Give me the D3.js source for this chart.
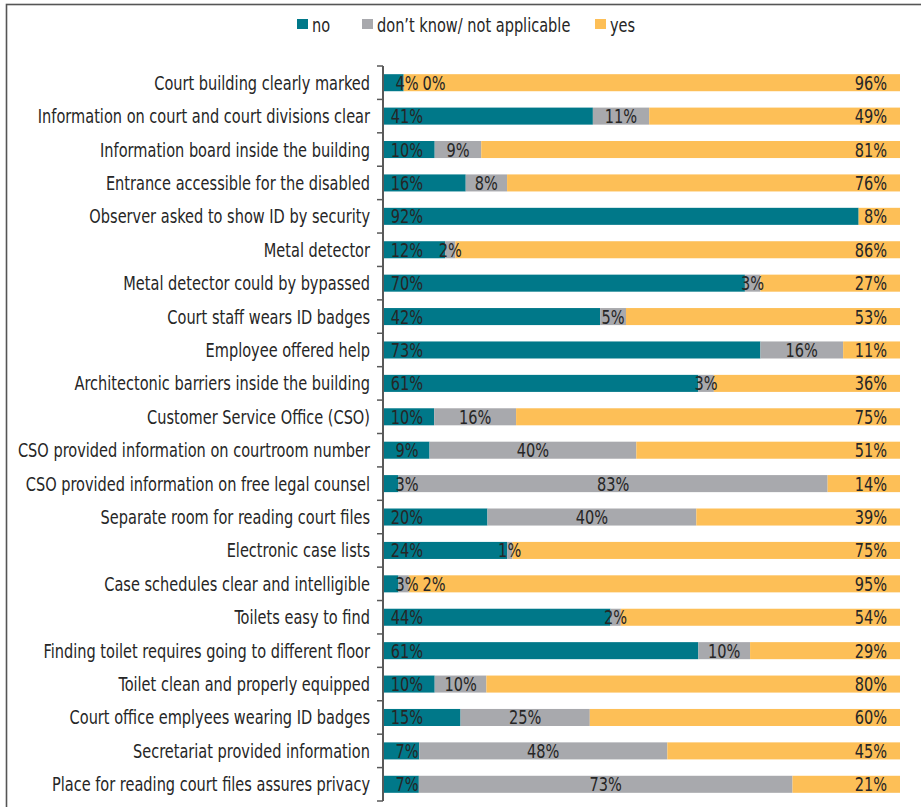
<!DOCTYPE html>
<html>
<head>
<meta charset="utf-8">
<script src="https://cdn.jsdelivr.net/npm/d3@7"></script>
<style>
  body { margin: 0; background: #fff; }
  svg { font-family: 'Liberation Sans Narrow', 'DejaVu Sans Condensed', sans-serif; }
  .cat-label, .val-label, .legend-label { fill: #262626; font-size: 19.5px; }
  .axis-y path, .axis-y line { stroke: #595959; }
</style>
</head>
<body>
<div id="chart"></div>
<script>
const categories = [
  "Court building clearly marked",
  "Information on court and court divisions clear",
  "Information board inside the building",
  "Entrance accessible for the disabled",
  "Observer asked to show ID by security",
  "Metal detector",
  "Metal detector could by bypassed",
  "Court staff wears ID badges",
  "Employee offered help",
  "Architectonic barriers inside the building",
  "Customer Service Office (CSO)",
  "CSO provided information on courtroom number",
  "CSO provided information on free legal counsel",
  "Separate room for reading court files",
  "Electronic case lists",
  "Case schedules clear and intelligible",
  "Toilets easy to find",
  "Finding toilet requires going to different floor",
  "Toilet clean and properly equipped",
  "Court office emplyees wearing ID badges",
  "Secretariat provided information",
  "Place for reading court files assures privacy"
];
const noValues       = [4, 41, 10, 16, 92, 12, 70, 42, 73, 61, 10, 9, 3, 20, 24, 3, 44, 61, 10, 15, 7, 7];
const dontKnowValues = [0, 11, 9, 8, null, 2, 3, 5, 16, 3, 16, 40, 83, 40, 1, 2, 2, 10, 10, 25, 48, 73];
const yesValues      = [96, 49, 81, 76, 8, 86, 27, 53, 11, 36, 75, 51, 14, 39, 75, 95, 54, 29, 80, 60, 45, 21];

const seriesNames = ["no", "don\u2019t know/ not applicable", "yes"];
const seriesColors = ["#007889", "#a8a9ad", "#fdbf57"];

const width = 921, height = 807;
const margin = {top: 66, right: 21, bottom: 6, left: 383};
const squeeze = 0.83; // condensed look for the text

const svg = d3.select("#chart").append("svg")
  .attr("width", width)
  .attr("height", height)
  .attr("viewBox", `0 0 ${width} ${height}`);

// places a text with horizontal squeeze
function place(sel, x, y) {
  return sel.attr("transform", `translate(${x},${y}) scale(${squeeze},1)`);
}

// frame
svg.append("rect")
  .attr("x", 6.5).attr("y", 4.5)
  .attr("width", width + 10).attr("height", height + 10)
  .attr("fill", "none")
  .attr("stroke", "#555")
  .attr("stroke-width", 1.6);

const g = svg.append("g")
  .attr("transform", `translate(${margin.left},${margin.top})`);

const graphWidth = width - margin.left - margin.right;
const graphHeight = height - margin.top - margin.bottom;

//
// Data
//
const rows = categories.map((c, i) => {
  const vals = [noValues[i], dontKnowValues[i], yesValues[i]];
  const total = d3.sum(vals, v => v || 0);
  let acc = 0;
  const segs = vals.map((v, k) => {
    const s = {cat: c, k, value: v, x0: acc / total, x1: (acc + (v || 0)) / total};
    acc += v || 0;
    return s;
  });
  return {cat: c, segs};
});

//
// Scales
//
const xScale = d3.scaleLinear().domain([0, 1]).range([0, graphWidth]);
const yScale = d3.scaleBand()
  .domain(categories)
  .range([0, graphHeight])
  .paddingInner(0.49)
  .paddingOuter(0.245);

//
// Bars
//
const rowG = g.selectAll(".row").data(rows).enter().append("g")
  .attr("class", "row")
  .attr("transform", d => `translate(0,${yScale(d.cat)})`);

rowG.selectAll("rect").data(d => d.segs.filter(s => s.value !== null && s.value > 0)).enter()
  .append("rect")
  .attr("x", s => xScale(s.x0))
  .attr("width", s => xScale(s.x1) - xScale(s.x0))
  .attr("height", yScale.bandwidth())
  .attr("fill", s => seriesColors[s.k]);

//
// Value labels
//
const labelY = yScale.bandwidth() / 2 + 7;
rowG.each(function(d) {
  const sel = d3.select(this);
  let prevEnd = -Infinity;
  d.segs.forEach(s => {
    if (s.value === null) return;
    const txt = sel.append("text")
      .attr("class", "val-label")
      .text(s.value + "%");
    const w = txt.node().getComputedTextLength() * squeeze;
    if (s.k === 2) {
      place(txt.attr("text-anchor", "end"), graphWidth - 13, labelY);
      return;
    }
    let cx = s.k === 0 ? xScale(s.x0) + 24 : (xScale(s.x0) + xScale(s.x1)) / 2;
    if (cx - w / 2 < prevEnd + 4) cx = prevEnd + 4 + w / 2;
    place(txt.attr("text-anchor", "middle"), cx, labelY);
    prevEnd = cx + w / 2;
  });
});

//
// Axis
//
const axisG = g.append("g").attr("class", "axis-y");
axisG.append("line")
  .attr("x1", 0).attr("x2", 0)
  .attr("y1", 0).attr("y2", graphHeight)
  .attr("stroke-width", 2);
axisG.selectAll(".tick-mark")
  .data(d3.range(categories.length + 1))
  .enter().append("line")
  .attr("class", "tick-mark")
  .attr("x1", -6).attr("x2", 0)
  .attr("y1", i => i * yScale.step())
  .attr("y2", i => i * yScale.step())
  .attr("stroke-width", 1.5);

g.selectAll(".cat-label").data(categories).enter().append("text")
  .attr("class", "cat-label")
  .attr("text-anchor", "end")
  .attr("transform", c => `translate(-13,${yScale(c) + labelY}) scale(${squeeze},1)`)
  .text(c => c);

//
// Legend
//
const legendItems = [{x: 297}, {x: 362}, {x: 595}];
const legend = svg.append("g").attr("class", "legend");
legendItems.forEach((it, i) => {
  legend.append("rect")
    .attr("x", it.x).attr("y", 19)
    .attr("width", 11).attr("height", 10)
    .attr("fill", seriesColors[i]);
  place(legend.append("text").attr("class", "legend-label"), it.x + 15, 32)
    .text(seriesNames[i]);
});
</script>
</body>
</html>
